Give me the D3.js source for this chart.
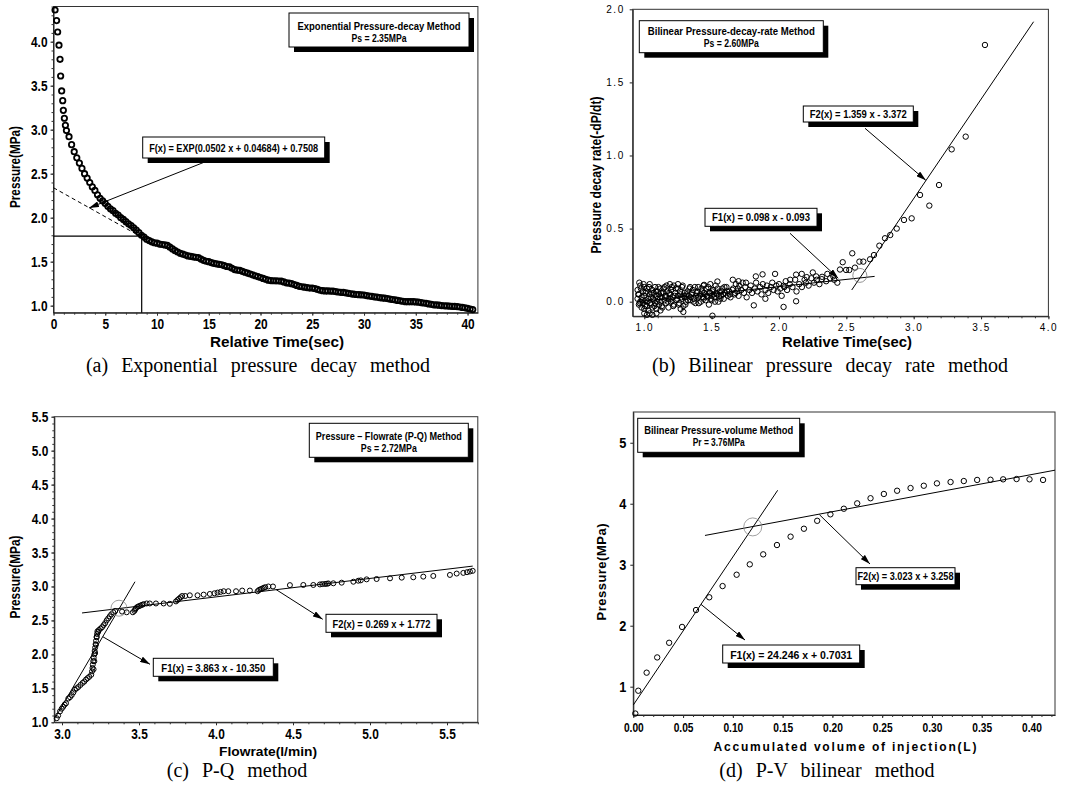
<!DOCTYPE html>
<html><head><meta charset="utf-8">
<script src="https://cdn.jsdelivr.net/npm/d3@7"></script>
<style>body{margin:0;background:#fff;}svg{display:block;}</style>
</head><body>
<svg id="c" width="1072" height="793"></svg>
<script>
// ---------------- DATA ----------------
// (a) Exponential pressure decay
const aEarlyTime = [0.15,0.3,0.4,0.53,0.63,0.69,0.79,0.89,0.95,1.05,1.15];
const aEarlyPress = [4.36,4.24,4.11,3.96,3.80,3.61,3.44,3.33,3.22,3.13,3.05];
const aDenseStart = 1.25, aDenseStep = 0.25;
const aDensePress = [2.99,2.92,2.83,2.75,2.68,2.62,2.56,2.50,2.45,2.40,2.35,2.31,2.26,2.22,2.19,2.16,2.13,2.10,2.08,2.05,
 2.03,2.00,1.98,1.955,1.93,1.91,1.885,1.86,1.83,1.80,1.78,1.755,1.74,1.725,1.715,1.71,1.70,1.695,1.69,1.685,
 1.665,1.645,1.625,1.61,1.595,1.585,1.575,1.565,1.56,1.555,1.55,1.545,1.53,1.515,1.505,1.50,1.49,1.48,1.475,1.47,
 1.465,1.455,1.445,1.44,1.425,1.41,1.405,1.40,1.39,1.38,1.37,1.36,1.35,1.34,1.33,1.32,1.31,1.30,1.29,1.285,
 1.283,1.282,1.28,1.278,1.27,1.26,1.255,1.25,1.24,1.23,1.22,1.215,1.21,1.205,1.20,1.20,1.195,1.185,1.175,1.17,
 1.168,1.167,1.166,1.165,1.16,1.155,1.152,1.15,1.145,1.14,1.135,1.13,1.127,1.125,1.122,1.12,1.115,1.11,1.105,1.10,
 1.097,1.092,1.088,1.085,1.08,1.075,1.07,1.065,1.06,1.055,1.05,1.045,1.045,1.045,1.045,1.043,1.04,1.035,1.03,1.027,
 1.02,1.015,1.01,1.008,1.005,1.00,0.998,0.997,0.995,0.993,0.991,0.99,0.985,0.98,0.975,0.97,0.962,0.955];
const aTangentTime = [0, 8.5], aTangentPress = [2.34, 1.78];
const aGuideTime = [0, 8.52, 8.52], aGuidePress = [1.79, 1.79, 0.92];
const aXTicks = [0,5,10,15,20,25,30,35,40];
const aYTicks = [1.0,1.5,2.0,2.5,3.0,3.5,4.0];

// (b) Bilinear pressure-decay-rate
const bTime = [3.529,3.386,3.282,3.188,3.116,3.047,2.985,2.928,2.874,2.826,2.787,2.745,2.705,2.676,2.626,2.597,2.564,2.544,2.522,2.498,
 2.473,2.453,2.433,2.403,2.359,2.318,2.276,2.251,2.206,2.169,2.127,2.083,2.034,2.034,2.127,1.971,1.878,1.828,1.813,1.899,1.657,1.506,0.963,
 0.95,0.95,0.96,0.96,0.97,0.97,0.98,0.98,0.99,0.99,1.0,1.0,1.0,1.01,1.01,1.02,1.02,1.03,1.03,1.04,1.04,1.05,1.05,1.06,1.06,1.07,1.07,
 1.08,1.08,1.09,1.09,1.1,1.1,1.11,1.11,1.12,1.12,1.13,1.13,1.14,1.15,1.15,1.16,1.16,1.17,1.18,1.18,1.19,1.2,1.2,1.21,1.22,1.22,1.23,
 1.24,1.25,1.25,1.26,1.27,1.28,1.28,1.29,1.3,1.3,1.31,1.32,1.33,1.34,1.35,1.36,1.37,1.38,1.39,1.4,1.4,1.41,1.42,1.43,1.44,1.45,1.46,
 1.47,1.48,1.49,1.5,1.5,1.51,1.52,1.53,1.54,1.55,1.56,1.57,1.58,1.59,1.6,1.61,1.62,1.63,1.64,1.66,1.67,1.68,1.69,1.7,1.7,1.72,1.73,
 1.74,1.75,1.76,1.78,1.79,1.8,1.82,1.83,1.84,1.86,1.87,1.88,1.9,1.91,1.92,1.94,1.95,1.96,1.98,1.99,2.0,2.01,2.02,2.04,2.05,2.06,2.08,
 2.1,2.12,2.13,2.15,2.17,2.19,2.2,2.22,2.24,2.26,2.28,2.3,2.32,2.35,2.38,2.41,
 1.29,1.27,1.12,1.06,1.02,1.19,1.25,1.34,1.44,1.49,1.0,1.04,1.09,1.444,1.543,1.706,1.755];
const bRate = [1.756,1.129,1.042,0.798,0.657,0.730,0.570,0.559,0.50,0.456,0.434,0.383,0.319,0.29,0.274,0.274,0.233,0.331,0.217,0.217,
 0.27,0.22,0.13,0.173,0.19,0.154,0.173,0.2,0.168,0.19,0.185,0.15,0.109,-0.036,0.003,0.19,0.187,0.173,-0.025,0.02,0.15,-0.096,0.13,
 0.02,0.08,-0.02,0.05,0.11,0.0,-0.04,0.03,0.07,-0.01,0.04,0.1,-0.05,0.01,0.06,-0.03,0.09,0.02,-0.06,0.05,0.12,-0.02,0.03,0.08,-0.04,0.01,0.06,
 0.1,-0.01,0.04,-0.05,0.02,0.07,-0.02,0.05,0.09,0.0,0.03,-0.03,0.06,0.01,0.1,-0.01,0.04,0.07,0.02,-0.04,0.05,0.0,0.08,0.03,0.11,-0.02,0.06,
 0.01,0.04,0.09,-0.01,0.05,0.02,0.1,-0.03,0.06,0.03,0.0,0.07,0.04,0.01,0.05,0.08,0.02,-0.01,0.06,0.03,0.1,0.04,0.0,0.07,0.02,0.05,0.09,
 0.03,-0.02,0.06,0.04,0.01,0.08,0.03,0.11,0.05,0.0,0.07,0.04,0.09,0.02,0.06,0.1,0.04,0.07,0.03,0.09,0.05,0.12,0.07,0.14,0.04,0.08,0.13,
 0.06,0.1,0.03,0.08,0.11,0.06,0.09,0.13,0.07,0.1,0.05,0.12,0.08,0.11,0.06,0.1,0.13,0.08,0.11,0.07,0.12,0.09,0.04,0.1,0.14,0.08,0.12,
 0.1,0.15,0.07,0.12,0.1,0.15,0.13,0.11,0.16,0.13,0.15,0.12,0.17,0.14,0.16,0.15,
 -0.07,-0.05,-0.06,-0.09,-0.09,0.12,0.12,0.1,0.11,0.12,-0.08,-0.08,-0.08,0.115,0.138,0.109,0.13];
const bClusterTime = [0.955,0.965,0.975,0.985,0.995,1.005,1.015,1.025,1.035,1.045,1.055,1.065,1.075,1.085,1.095,1.105,1.115,1.125,1.135,1.145,
 1.155,1.165,1.175,1.185,1.195,1.205,1.215,1.225,1.235,1.245,1.255,1.265,1.275,1.285,1.295,1.305,1.315,1.325,1.335,1.345,
 1.355,1.365,1.375,1.385,1.395,1.405,1.415,1.425,1.435,1.445,1.455,1.465,1.475,1.485,1.495,1.505,1.515,1.525,1.535,1.545,
 1.555,1.565,1.575,1.585,1.595,1.615,1.635,1.655,1.675,1.695];
const bClusterRate = [0.05,-0.01,0.09,0.01,0.12,-0.03,0.07,0.0,0.1,-0.01,0.06,0.02,-0.03,0.07,0.0,0.1,0.03,0.06,-0.04,0.09,
 0.03,0.11,0.0,0.06,0.02,0.1,-0.03,0.04,0.09,0.02,-0.02,0.07,0.03,0.11,0.04,-0.02,0.05,0.01,0.09,0.03,
 0.06,0.0,0.1,0.04,0.07,-0.01,0.05,0.09,0.03,0.06,0.01,0.04,0.1,0.06,0.02,0.07,0.05,0.0,0.06,0.09,
 0.04,0.02,0.07,0.05,0.1,0.07,0.05,0.08,0.06,0.09];
const bF1Time = [0.95, 2.71], bF1Rate = [0.0, 0.173];
const bF2Time = [2.54, 3.89], bF2Rate = [0.08, 1.915];
const bXTicks = [1.0,1.5,2.0,2.5,3.0,3.5,4.0];
const bYTicks = [0.0,0.5,1.0,1.5,2.0];

// (c) P-Q method
const cFlow = [2.966,2.975,2.987,2.998,3.008,3.017,3.026,3.041,3.052,3.063,3.074,3.084,3.095,3.106,3.12,3.134,3.145,3.156,3.166,3.177,
 3.19,3.195,3.198,3.2,3.203,3.206,3.21,3.212,3.215,3.218,3.221,3.225,3.228,3.235,3.24,3.25,3.26,3.27,3.28,3.29,3.30,3.31,3.32,3.333,3.345,
 3.205,3.21,3.215,3.22,3.225,3.23,
 3.39,3.42,3.46,3.47,3.475,3.48,3.49,3.50,3.51,3.52,3.53,3.55,3.57,3.61,3.66,3.70,3.74,3.75,3.76,3.77,3.78,3.80,3.83,3.88,3.92,3.96,
 3.99,4.01,4.03,4.05,4.08,4.13,4.17,4.22,4.27,4.28,4.29,4.30,4.31,4.32,4.34,4.37,4.48,4.567,4.632,4.675,4.69,4.708,4.72,4.729,4.762,
 4.816,4.892,4.924,4.94,4.978,5.043,5.13,5.206,5.281,5.346,5.411,5.519,5.563,5.606,5.63,5.649,5.667];
const cPress = [1.06,1.10,1.16,1.20,1.23,1.26,1.28,1.35,1.37,1.40,1.44,1.48,1.50,1.52,1.55,1.58,1.60,1.63,1.65,1.67,
 1.70,1.75,1.80,1.85,1.90,1.95,2.0,2.05,2.10,2.15,2.20,2.25,2.30,2.33,2.36,2.38,2.40,2.43,2.46,2.50,2.53,2.56,2.59,2.62,2.64,
 1.78,1.90,2.02,2.14,2.26,2.34,
 2.63,2.62,2.62,2.64,2.66,2.68,2.70,2.71,2.72,2.73,2.74,2.75,2.75,2.75,2.75,2.745,2.78,2.80,2.82,2.84,2.86,2.86,2.87,2.87,2.88,2.89,
 2.90,2.91,2.92,2.93,2.93,2.93,2.94,2.94,2.93,2.95,2.96,2.97,2.98,2.99,3.00,3.00,3.02,3.022,3.022,3.03,3.035,3.037,3.04,3.045,3.047,
 3.056,3.07,3.085,3.09,3.105,3.11,3.12,3.13,3.135,3.145,3.155,3.17,3.19,3.20,3.21,3.22,3.23];
const cF1Flow = [2.955, 3.474], cF1Press = [1.065, 3.07];
const cF2Flow = [3.13, 5.667], cF2Press = [2.61, 3.30];
const cXTicks = [3.0,3.5,4.0,4.5,5.0,5.5];
const cYTicks = [1.0,1.5,2.0,2.5,3.0,3.5,4.0,4.5,5.0,5.5];

// (d) P-V bilinear
const dVol = [0.002,0.005,0.0134,0.024,0.036,0.049,0.063,0.0763,0.0897,0.1038,0.117,0.1305,0.1443,0.158,0.1714,0.1847,0.198,0.2115,
 0.2249,0.2383,0.2517,0.265,0.2785,0.2918,0.305,0.3187,0.332,0.3454,0.3588,0.3715,0.385,0.398,0.4116];
const dPress = [0.56,0.934,1.23,1.48,1.72,1.98,2.257,2.466,2.65,2.836,3.006,3.17,3.323,3.46,3.59,3.72,3.826,3.918,
 4.006,4.09,4.16,4.213,4.257,4.295,4.334,4.356,4.372,4.39,4.393,4.40,4.405,4.40,4.39];
const dF1Vol = [0, 0.145], dF1Press = [0.70, 4.22];
const dF2Vol = [0.072, 0.4236], dF2Press = [3.48, 4.55];
const dXTicks = [0,0.05,0.10,0.15,0.20,0.25,0.30,0.35,0.40];
const dYTicks = [1,2,3,4,5];

// ---------------- DRAWING ----------------
const SANS = "'Liberation Sans',Arial,'DejaVu Sans',sans-serif";
const SERIF = "'Liberation Serif','Times New Roman',serif";
const svg = d3.select("#c");
svg.append("defs").append("marker").attr("id","arr").attr("viewBox","0 0 10 6").attr("refX",10).attr("refY",3)
  .attr("markerWidth",10).attr("markerHeight",6).attr("markerUnits","userSpaceOnUse").attr("orient","auto")
  .append("path").attr("d","M0,0 L10,3 L0,6 z").attr("fill","#000");

function squeeze(sel, ratio) {
  sel.each(function(){ const w = this.getComputedTextLength();
    d3.select(this).attr("textLength", w*ratio).attr("lengthAdjust","spacingAndGlyphs"); });
}
function axes(g, x, y, o) {
  const [x0,x1] = x.range(), [y0,y1] = y.range();
  g.append("rect").attr("x",x0).attr("y",y1).attr("width",x1-x0).attr("height",y0-y1)
    .attr("fill","none").attr("stroke","#333").attr("stroke-width",1);
  const bx = g.append("g").attr("transform",`translate(0,${y0})`)
    .call(d3.axisBottom(x).tickValues(o.xTicks).tickFormat(o.xFmt).tickSizeInner(o.tick).tickSizeOuter(0).tickPadding(o.xPad));
  const ly = g.append("g").attr("transform",`translate(${x0},0)`)
    .call(d3.axisLeft(y).tickValues(o.yTicks).tickFormat(o.yFmt).tickSizeInner(o.tick).tickSizeOuter(0).tickPadding(o.yPad));
  [bx,ly].forEach(a=>{ a.select(".domain").attr("stroke","#222"); a.selectAll(".tick line").attr("stroke","#222"); });
  bx.selectAll("text").attr("font-family",SANS).attr("font-size",o.xSize).attr("font-weight",o.weight).attr("fill","#000").attr("letter-spacing",o.ls||0);
  ly.selectAll("text").attr("font-family",SANS).attr("font-size",o.ySize).attr("font-weight",o.weight).attr("fill","#000").attr("letter-spacing",o.ls||0);
  if (o.squeeze) { squeeze(bx.selectAll("text"),o.squeeze); squeeze(ly.selectAll("text"),o.squeeze); }
  if (o.xMinor) g.append("g").attr("transform",`translate(0,${y0})`)
    .call(d3.axisBottom(x).tickValues(o.xMinor).tickFormat("").tickSize(2).tickSizeOuter(0))
    .call(s=>{s.select(".domain").remove(); s.selectAll("line").attr("stroke","#333");});
  if (o.yMinor) g.append("g").attr("transform",`translate(${x0},0)`)
    .call(d3.axisLeft(y).tickValues(o.yMinor).tickFormat("").tickSize(2).tickSizeOuter(0))
    .call(s=>{s.select(".domain").remove(); s.selectAll("line").attr("stroke","#333");});
}
function title(g, txt, x, y, rot, o) {
  const t = g.append("text").attr("text-anchor","middle").attr("font-family",SANS).attr("font-size",o.size)
    .attr("font-weight","bold").attr("fill","#000").text(txt)
    .attr("textLength",o.len).attr("lengthAdjust",o.adj||"spacingAndGlyphs");
  if (rot) t.attr("transform",`translate(${x},${y}) rotate(-90)`); else t.attr("x",x).attr("y",y);
}
function box(g, x, y, w, h, lines, bases, lens) {
  g.append("rect").attr("x",x+5).attr("y",y+5).attr("width",w).attr("height",h).attr("fill","#000");
  g.append("rect").attr("x",x).attr("y",y).attr("width",w).attr("height",h).attr("fill","#fff").attr("stroke","#000").attr("stroke-width",1);
  lines.forEach((t,i)=> g.append("text").attr("x",x+w/2).attr("y",bases[i]).attr("text-anchor","middle")
    .attr("font-family",SANS).attr("font-size",10).attr("font-weight","bold").attr("fill","#000")
    .attr("textLength",lens[i]).attr("lengthAdjust","spacingAndGlyphs").text(t));
}
function arrow(g, x1,y1,x2,y2) {
  g.append("line").attr("x1",x1).attr("y1",y1).attr("x2",x2).attr("y2",y2)
    .attr("stroke","#000").attr("stroke-width",1).attr("marker-end","url(#arr)");
}
function points(g, xs, ys, x, y, r, sw) {
  g.append("g").selectAll("circle").data(d3.zip(xs,ys)).join("circle")
    .attr("cx",d=>x(d[0])).attr("cy",d=>y(d[1])).attr("r",r)
    .attr("fill","none").attr("stroke","#000").attr("stroke-width",sw);
}
function line(g, xs, ys, x, y, dash, w) {
  g.append("path").attr("d", d3.line().x(d=>x(d[0])).y(d=>y(d[1]))(d3.zip(xs,ys)))
    .attr("fill","none").attr("stroke","#000").attr("stroke-width",w||1).attr("stroke-dasharray",dash||null);
}
function caption(txt, x, y) {
  svg.append("text").attr("x",x).attr("y",y).attr("text-anchor","middle").attr("font-family",SERIF)
    .attr("font-size",20).attr("word-spacing",8).attr("fill","#000").text(txt);
}
const f1 = d3.format(".1f"), f2 = d3.format(".2f"), f0 = d3.format("d");

// ----- Panel (a)
{
  const g = svg.append("g");
  const x = d3.scaleLinear([0,41],[53.5,477.9]);
  const y = d3.scaleLinear([0.92,4.4],[312.7,6.5]);
  axes(g,x,y,{xTicks:aXTicks,yTicks:aYTicks,xFmt:f0,yFmt:f1,tick:3,xPad:3,yPad:3,
    xSize:14,ySize:14,weight:"bold",squeeze:0.85,xMinor:d3.range(0,41,1),yMinor:d3.range(1,4.41,0.1)});
  const aTime = aEarlyTime.concat(aDensePress.map((_,i)=>aDenseStart+i*aDenseStep));
  const aPress = aEarlyPress.concat(aDensePress);
  points(g,aTime,aPress,x,y,2.7,1.8);
  line(g,aTangentTime,aTangentPress,x,y,"4,3",1);
  line(g,aGuideTime,aGuidePress,x,y,null,1.2);
  box(g,289,13,180,34,["Exponential  Pressure-decay  Method","Ps = 2.35MPa"],[30,42],[163,55]);
  box(g,142.7,137,182,21,["F(x)  = EXP(0.0502 x + 0.04684) + 0.7508"],[151.5],[169]);
  arrow(g,203,162.7,x(3.43),y(2.11));
  title(g,"Pressure(MPa)",20,167,true,{size:15,len:82});
  title(g,"Relative Time(sec)",277,347,false,{size:15,len:134});
}
// ----- Panel (b)
{
  const g = svg.append("g");
  const x = d3.scaleLinear([0.914,4.0],[632.7,1048.4]);
  const y = d3.scaleLinear([-0.1,2.0],[316.3,9.3]);
  axes(g,x,y,{xTicks:bXTicks,yTicks:bYTicks,xFmt:f1,yFmt:f1,tick:3,xPad:5,yPad:5,
    xSize:10,ySize:10,weight:"normal",ls:1.5,xMinor:d3.range(1,4.01,0.1)});
  points(g,bTime.concat(bClusterTime),bRate.concat(bClusterRate),x,y,2.7,1);
  line(g,bF1Time,bF1Rate,x,y,null,1);
  line(g,bF2Time,bF2Rate,x,y,null,1);
  g.append("circle").attr("cx",x(2.6)).attr("cy",y(0.18)).attr("r",7).attr("fill","none").attr("stroke","#777").attr("stroke-width",0.8);
  box(g,639.3,20.7,184,32,["Bilinear  Pressure-decay-rate  Method","Ps = 2.60MPa"],[35,47],[167,55]);
  box(g,803.3,106,110,16,["F2(x)  = 1.359 x - 3.372"],[117.5],[97]);
  box(g,705,208.3,112,18,["F1(x)  = 0.098 x - 0.093"],[221],[98]);
  arrow(g,865,128.3,x(3.09),y(0.83));
  arrow(g,790,233.3,x(2.44),y(0.16));
  title(g,"Pressure decay rate(-dP/dt)",601,175,true,{size:15,len:157});
  title(g,"Relative Time(sec)",847,347,false,{size:15,len:130});
}
// ----- Panel (c)
{
  const g = svg.append("g");
  const x = d3.scaleLinear([2.95,5.70],[54.3,477.8]);
  const y = d3.scaleLinear([1.0,5.5],[722.3,416.7]);
  axes(g,x,y,{xTicks:cXTicks,yTicks:cYTicks,xFmt:f1,yFmt:f1,tick:3,xPad:4,yPad:3,
    xSize:14,ySize:14,weight:"bold",squeeze:0.85,xMinor:d3.range(3,5.71,0.1),yMinor:d3.range(1,5.51,0.1)});
  points(g,cFlow,cPress,x,y,2.5,1);
  line(g,cF1Flow,cF1Press,x,y,null,1);
  line(g,cF2Flow,cF2Press,x,y,null,1);
  g.append("circle").attr("cx",x(3.37)).attr("cy",y(2.68)).attr("r",8).attr("fill","none").attr("stroke","#888").attr("stroke-width",0.8);
  box(g,309.3,423.3,159,34,["Pressure – Flowrate (P-Q) Method","Ps = 2.72MPa"],[440,452],[146,56]);
  box(g,326,614.3,111,18,["F2(x)  = 0.269 x + 1.772"],[627.5],[98]);
  box(g,153.3,658.3,120,18,["F1(x)  = 3.863 x - 10.350"],[671.5],[104]);
  arrow(g,x(4.39),y(2.955),322.7,619.3);
  arrow(g,x(3.265),y(2.26),150,664.3);
  title(g,"Pressure(MPa)",20,577,true,{size:15,len:83});
  title(g,"Flowrate(l/min)",268,756,false,{size:13,len:98});
}
// ----- Panel (d)
{
  const g = svg.append("g");
  const x = d3.scaleLinear([0,0.4236],[633.3,1055]);
  const y = d3.scaleLinear([0.536,5.504],[715,412]);
  axes(g,x,y,{xTicks:dXTicks,yTicks:dYTicks,xFmt:f2,yFmt:f0,tick:3,xPad:5,yPad:4,
    xSize:12,ySize:15,weight:"bold",squeeze:0.85,xMinor:d3.range(0,0.421,0.01)});
  points(g,dVol,dPress,x,y,2.7,1);
  line(g,dF1Vol,dF1Press,x,y,null,1);
  line(g,dF2Vol,dF2Press,x,y,null,1);
  g.append("circle").attr("cx",x(0.12)).attr("cy",y(3.62)).attr("r",9).attr("fill","none").attr("stroke","#888").attr("stroke-width",0.8);
  box(g,637.7,418.3,162,34,["Bilinear  Pressure-volume  Method","Pr = 3.76MPa"],[434,446],[149,52]);
  box(g,856,567.7,99,17,["F2(x)  = 3.023 x + 3.258"],[580],[96]);
  box(g,722.7,645,137,18,["F1(x)  = 24.246 x + 0.7031"],[658.5],[122]);
  arrow(g,x(0.187),y(3.82),870,564);
  arrow(g,x(0.068),y(2.35),745,640);
  title(g,"Pressure(MPa)",606,572,true,{size:13,len:97,adj:"spacing"});
  title(g,"Accumulated volume of injection(L)",845,751,false,{size:12,len:263,adj:"spacing"});
}
caption("(a) Exponential pressure decay method", 258, 372);
caption("(b) Bilinear pressure decay rate method", 830, 372);
caption("(c) P-Q method", 237, 777);
caption("(d) P-V bilinear method", 827, 777);
</script>
</body></html>
